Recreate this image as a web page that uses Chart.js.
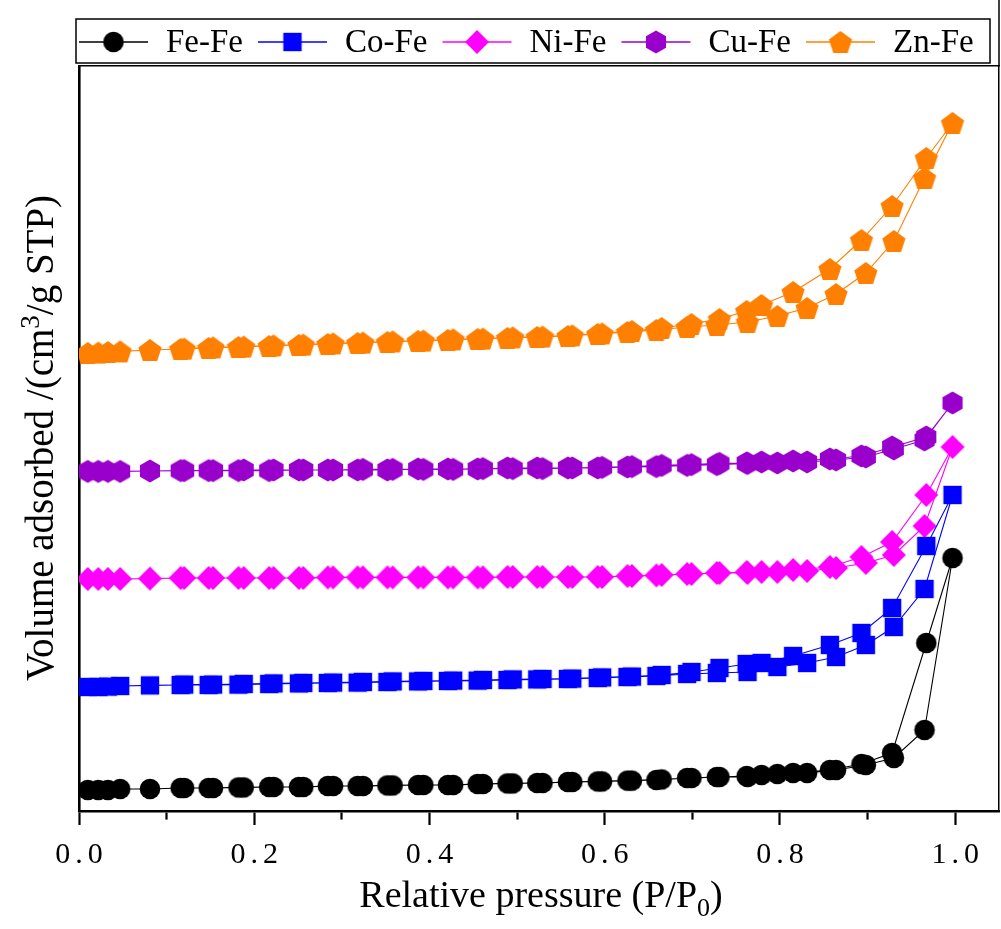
<!DOCTYPE html>
<html><head><meta charset="utf-8">
<script src="https://cdn.jsdelivr.net/npm/chart.js@4/dist/chart.umd.min.js"></script>
<style>html,body{margin:0;padding:0;background:#fff;}canvas{display:block;}</style>
</head><body>
<canvas id="c" width="1001" height="929"></canvas>
<script>
// ---- data ----
const seriesNames = ['Fe-Fe', 'Co-Fe', 'Ni-Fe', 'Cu-Fe', 'Zn-Fe'];
const seriesColors = ['#000000', '#0000FF', '#FF00FF', '#9900CC', '#FF8000'];
const seriesMarkers = ['circle', 'square', 'diamond', 'hexagon', 'pentagon'];
const xTickLabels = ['0.0', '0.2', '0.4', '0.6', '0.8', '1.0'];

// relative pressure of adsorption branch (ascending) and desorption branch (descending)
const adsP = [0.010, 0.022, 0.033, 0.047, 0.081, 0.116, 0.148, 0.182, 0.217, 0.251, 0.284, 0.318, 0.352, 0.387, 0.421, 0.455, 0.489, 0.523, 0.558, 0.592, 0.626, 0.659, 0.694, 0.728, 0.763, 0.797, 0.831, 0.864, 0.898, 0.930, 0.965, 0.997];
const desP = [0.967, 0.928, 0.893, 0.857, 0.815, 0.779, 0.762, 0.731, 0.699, 0.665, 0.631, 0.597, 0.563, 0.529, 0.495, 0.461, 0.427, 0.393, 0.358, 0.324, 0.290, 0.256, 0.222, 0.188, 0.153, 0.120];

// volume adsorbed (arbitrary offset units)
const feAds = [5.25, 5.25, 5.25, 5.5, 5.5, 5.75, 5.75, 5.9, 6.0, 6.0, 6.25, 6.25, 6.4, 6.5, 6.5, 6.75, 6.9, 7.0, 7.25, 7.4, 7.6, 7.75, 8.25, 8.5, 8.5, 9.25, 9.5, 10.25, 11.5, 13.25, 20.25, 63.25];
const feDes = [42, 14.5, 11.75, 10.25, 9.5, 9.0, 8.75, 8.5, 8.25, 7.9, 7.6, 7.4, 7.25, 7.0, 6.9, 6.75, 6.5, 6.5, 6.4, 6.25, 6.25, 6.0, 6.0, 5.9, 5.75, 5.75];
const coAds = [31, 31, 31.1, 31.25, 31.4, 31.5, 31.5, 31.6, 31.75, 31.9, 32, 32.1, 32.25, 32.4, 32.5, 32.6, 32.75, 32.9, 33, 33.25, 33.5, 33.75, 34.25, 34.5, 34.75, 36, 37, 38.5, 41.5, 46, 55.5, 79];
const coDes = [66.25, 50.75, 44.5, 41.5, 38.75, 37, 36.75, 35.75, 34.75, 34, 33.6, 33.4, 33.1, 33, 32.9, 32.75, 32.6, 32.5, 32.4, 32.25, 32.1, 32, 31.9, 31.75, 31.6, 31.6];
const niAds = [58, 58, 58, 58, 58.1, 58.25, 58.25, 58.25, 58.25, 58.25, 58.4, 58.4, 58.4, 58.4, 58.4, 58.4, 58.5, 58.5, 58.5, 58.5, 58.75, 58.9, 59.25, 59.5, 59.5, 59.75, 60, 60.75, 62, 64, 71.25, 91];
const niDes = [79, 67.25, 63.5, 61, 60.25, 59.75, 59.75, 59.5, 59.25, 59, 58.75, 58.5, 58.5, 58.5, 58.5, 58.4, 58.4, 58.4, 58.4, 58.4, 58.4, 58.25, 58.25, 58.25, 58.25, 58.25];
const cuAds = [84.9, 84.9, 84.9, 84.9, 85, 85.1, 85.1, 85.1, 85.1, 85.25, 85.25, 85.25, 85.25, 85.5, 85.5, 85.5, 85.75, 85.75, 85.75, 85.75, 86, 86.1, 86.4, 86.6, 86.9, 87, 87.25, 87.75, 88.5, 90.5, 92.75, 102];
const cuDes = [93.5, 91, 88.75, 88, 87.5, 87.25, 87, 86.9, 86.6, 86.4, 86.1, 85.9, 85.75, 85.6, 85.6, 85.6, 85.4, 85.4, 85.4, 85.4, 85.25, 85.25, 85.25, 85.25, 85.1, 85.1];
const znAds = [114.5, 114.6, 114.75, 114.9, 115.25, 115.5, 115.75, 116, 116.25, 116.5, 116.75, 117, 117.25, 117.5, 117.75, 118, 118.25, 118.5, 118.75, 119.25, 119.75, 120.25, 121, 121.5, 122.25, 123.75, 125.75, 129.25, 134.5, 142.5, 158.25, 172];
const znDes = [163.25, 151.25, 142.75, 135.5, 129.75, 126.5, 125, 123, 121.75, 120.75, 120, 119.4, 118.9, 118.6, 118.4, 118.1, 117.9, 117.6, 117.4, 117.1, 116.9, 116.6, 116.4, 116.1, 115.9, 115.6];

const adsSeries = [feAds, coAds, niAds, cuAds, znAds];
const desSeries = [feDes, coDes, niDes, cuDes, znDes];

const X_MIN = 0, X_MAX = 1.05, Y_MIN = 0, Y_MAX = 186.25;

// ---- marker images ----
function makeMarker(type, color) {
  const s = 30, c = document.createElement('canvas');
  c.width = s; c.height = s;
  const g = c.getContext('2d');
  const cx = s / 2, cy = s / 2;
  g.fillStyle = color;
  g.beginPath();
  if (type === 'circle') {
    g.arc(cx, cy, 10.3, 0, Math.PI * 2);
  } else if (type === 'square') {
    g.rect(cx - 9.2, cy - 9.2, 18.4, 18.4);
  } else if (type === 'diamond') {
    g.moveTo(cx, cy - 12); g.lineTo(cx + 12, cy); g.lineTo(cx, cy + 12); g.lineTo(cx - 12, cy);
  } else {
    const n = type === 'hexagon' ? 6 : 5;
    const r = type === 'hexagon' ? 11.6 : 12.2;
    const oy = type === 'pentagon' ? 1.2 : 0;
    for (let k = 0; k < n; k++) {
      const a = -Math.PI / 2 + k * 2 * Math.PI / n;
      const px = cx + r * Math.cos(a), py = cy + oy + r * Math.sin(a);
      if (k === 0) g.moveTo(px, py); else g.lineTo(px, py);
    }
  }
  g.closePath();
  g.fill();
  return c;
}
const markerImgs = seriesNames.map((n, i) => makeMarker(seriesMarkers[i], seriesColors[i]));

const datasets = seriesNames.map((name, i) => ({
  label: name,
  data: adsP.map((p, j) => ({x: p, y: adsSeries[i][j]})).concat(desP.map((p, j) => ({x: p, y: desSeries[i][j]}))),
  showLine: true,
  borderColor: seriesColors[i],
  backgroundColor: seriesColors[i],
  borderWidth: 1.1,
  pointStyle: markerImgs[i],
  pointRadius: 10,
  pointHoverRadius: 10,
  tension: 0
}));

const SERIF = '"Liberation Serif", "Times New Roman", serif';

// wide tick-label spacing like the original figure
const spacing = {
  id: 'spacing',
  beforeDraw(chart) { chart.ctx.letterSpacing = '5px'; },
  beforeDatasetsDraw(chart) { chart.ctx.letterSpacing = '0px'; }
};

const decor = {
  id: 'decor',
  afterDraw(chart) {
    const ctx = chart.ctx;
    const area = chart.chartArea;
    ctx.save();
    ctx.letterSpacing = '0px';
    // right frame line continues to the top edge
    ctx.strokeStyle = '#000';
    ctx.lineWidth = 1.5;
    ctx.beginPath(); ctx.moveTo(area.right, 0); ctx.lineTo(area.right, area.top); ctx.stroke();
    // legend box
    const bx1 = 76, by1 = 19, bx2 = 990, by2 = 63;
    ctx.fillStyle = '#fff';
    ctx.fillRect(bx1, by1, bx2 - bx1, by2 - by1);
    ctx.strokeStyle = '#000';
    ctx.lineWidth = 1.5;
    ctx.strokeRect(bx1, by1, bx2 - bx1, by2 - by1);
    ctx.font = '33px ' + SERIF;
    ctx.textBaseline = 'middle';
    let x = 79;
    const ly = 42;
    seriesNames.forEach((name, i) => {
      ctx.strokeStyle = seriesColors[i];
      ctx.lineWidth = 1.3;
      ctx.beginPath(); ctx.moveTo(x, ly); ctx.lineTo(x + 69, ly); ctx.stroke();
      const img = markerImgs[i];
      ctx.drawImage(img, x + 34.5 - img.width / 2, ly - img.height / 2);
      ctx.fillStyle = '#000';
      ctx.fillText(name, x + 87, ly + 1);
      x += 87 + ctx.measureText(name).width + 15;
    });

    // x title with subscript
    ctx.fillStyle = '#000';
    ctx.textBaseline = 'alphabetic';
    const fs = 38;
    const p1 = 'Relative pressure (P/P', p2 = '0', p3 = ')';
    ctx.font = fs + 'px ' + SERIF;
    const w1 = ctx.measureText(p1).width, w3 = ctx.measureText(p3).width;
    ctx.font = Math.round(fs * 0.68) + 'px ' + SERIF;
    const w2 = ctx.measureText(p2).width;
    const tw = w1 + w2 + w3;
    let tx = 541 - tw / 2;
    const tb = 907;
    ctx.font = fs + 'px ' + SERIF; ctx.fillText(p1, tx, tb); tx += w1;
    ctx.font = Math.round(fs * 0.68) + 'px ' + SERIF; ctx.fillText(p2, tx, tb + 9); tx += w2;
    ctx.font = fs + 'px ' + SERIF; ctx.fillText(p3, tx, tb);

    // y title with superscript
    ctx.save();
    ctx.translate(53, 438);
    ctx.rotate(-Math.PI / 2);
    const fy = 39;
    const q1 = 'Volume adsorbed /(cm', q2 = '3', q3 = '/g STP)';
    ctx.font = fy + 'px ' + SERIF;
    const v1 = ctx.measureText(q1).width, v3 = ctx.measureText(q3).width;
    ctx.font = Math.round(fy * 0.68) + 'px ' + SERIF;
    const v2 = ctx.measureText(q2).width;
    let yx = -(v1 + v2 + v3) / 2;
    ctx.font = fy + 'px ' + SERIF; ctx.fillText(q1, yx, 0); yx += v1;
    ctx.font = Math.round(fy * 0.68) + 'px ' + SERIF; ctx.fillText(q2, yx, -14); yx += v2;
    ctx.font = fy + 'px ' + SERIF; ctx.fillText(q3, yx, 0);
    ctx.restore();
    ctx.restore();
  }
};

const isMajor = v => Math.round(v * 10) % 2 === 0;

new Chart(document.getElementById('c'), {
  type: 'scatter',
  data: {datasets},
  options: {
    responsive: false,
    animation: false,
    devicePixelRatio: 1,
    layout: {autoPadding: false, padding: {left: 79, right: 2, top: 66, bottom: 0}},
    plugins: {legend: {display: false}, tooltip: {enabled: false}},
    scales: {
      x: {
        type: 'linear', position: 'bottom', min: X_MIN, max: X_MAX,
        afterFit(s) { s.height = 118; },
        ticks: {
          stepSize: 0.1, includeBounds: false, autoSkip: false, maxRotation: 0,
          color: '#000', padding: 12, labelOffset: 2.5,
          font: {family: SERIF, size: 30},
          callback: v => isMajor(v) ? xTickLabels[Math.round(v * 5)] : ''
        },
        grid: {
          display: true, drawOnChartArea: false, drawTicks: true,
          tickLength: 14, tickWidth: 2.2, tickColor: '#000',
          tickBorderDash: ctx => (ctx.tick && !isMajor(ctx.tick.value)) ? [7, 40] : []
        },
        border: {display: true, color: '#000', width: 2.6}
      },
      x2: {
        type: 'linear', position: 'top', min: X_MIN, max: X_MAX,
        afterFit(s) { s.height = 0; },
        ticks: {display: false},
        grid: {display: false, drawTicks: false},
        border: {display: true, color: '#000', width: 1.5}
      },
      y: {
        type: 'linear', position: 'left', min: Y_MIN, max: Y_MAX,
        afterFit(s) { s.width = 0; },
        ticks: {display: false},
        grid: {display: false, drawTicks: false},
        border: {display: true, color: '#000', width: 2.6}
      },
      y2: {
        type: 'linear', position: 'right', min: Y_MIN, max: Y_MAX,
        afterFit(s) { s.width = 0; },
        ticks: {display: false},
        grid: {display: false, drawTicks: false},
        border: {display: true, color: '#000', width: 1.5}
      }
    }
  },
  plugins: [spacing, decor]
});
</script>
</body></html>
